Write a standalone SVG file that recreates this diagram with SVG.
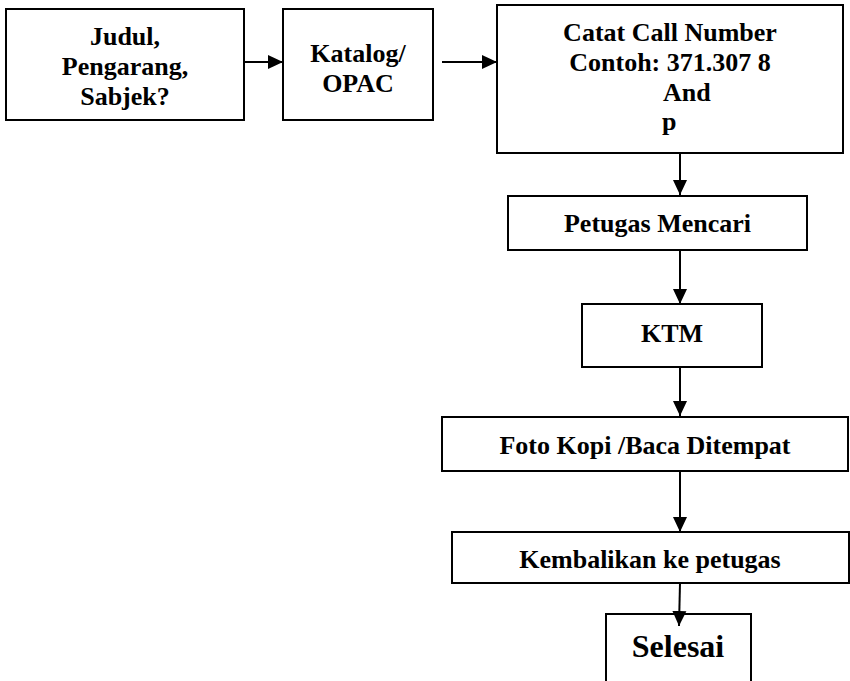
<svg xmlns="http://www.w3.org/2000/svg" width="850" height="681" viewBox="0 0 850 681">
<defs>
<style>
.box{fill:#fff;stroke:#000;stroke-width:2}
.t{font-family:"Liberation Serif","Times New Roman",serif;font-weight:bold;font-size:26px;fill:#000;text-anchor:middle}
.l{text-anchor:start}
.con line{stroke:#000;stroke-width:2}
</style>
<marker id="ah" markerUnits="userSpaceOnUse" markerWidth="16" markerHeight="16" viewBox="0 0 16 16" refX="15" refY="8" orient="auto">
<path d="M0,1 L15,8 L0,15 Z" fill="#000"/>
</marker>
</defs>
<rect width="850" height="681" fill="#fff"/>
<g id="n1"><rect class="box" x="6" y="9" width="238" height="111"/>
<text class="t" x="125" y="45">Judul,</text><text class="t" x="125" y="75">Pengarang,</text><text class="t" x="125" y="105">Sabjek?</text></g>
<g id="n2"><rect class="box" x="283" y="9" width="150" height="111"/>
<text class="t" x="358" y="62">Katalog/</text><text class="t" x="358" y="92">OPAC</text></g>
<g id="n3"><rect class="box" x="497" y="5" width="346" height="148"/>
<text class="t" x="670" y="41">Catat Call Number</text><text class="t" x="670" y="71">Contoh: 371.307 8</text>
<text class="t l" x="663" y="101">And</text><text class="t l" x="662" y="130">p</text></g>
<g id="n4"><rect class="box" x="508" y="196" width="299" height="54"/>
<text class="t" x="657.5" y="232">Petugas Mencari</text></g>
<g id="n5"><rect class="box" x="582" y="304" width="180" height="63"/>
<text class="t" x="672" y="342">KTM</text></g>
<g id="n6"><rect class="box" x="442" y="417" width="406" height="54"/>
<text class="t" x="645" y="454">Foto Kopi /Baca Ditempat</text></g>
<g id="n7"><rect class="box" x="452" y="532" width="397" height="51"/>
<text class="t" x="650" y="568">Kembalikan ke petugas</text></g>
<g id="n8"><rect class="box" x="606" y="614" width="145" height="90"/>
<text class="t" style="font-size:32px" x="678" y="657">Selesai</text></g>
<g class="con" id="connectors">
<line x1="244" y1="62" x2="283" y2="62" marker-end="url(#ah)"/>
<line x1="442" y1="62" x2="497" y2="62" marker-end="url(#ah)"/>
<line x1="680" y1="153" x2="680" y2="195" marker-end="url(#ah)"/>
<line x1="680" y1="250" x2="680" y2="304" marker-end="url(#ah)"/>
<line x1="680" y1="367" x2="680" y2="416" marker-end="url(#ah)"/>
<line x1="680" y1="471" x2="680" y2="532" marker-end="url(#ah)"/>
<line x1="680" y1="583" x2="679" y2="626" marker-end="url(#ah)"/>
</g>
</svg>
